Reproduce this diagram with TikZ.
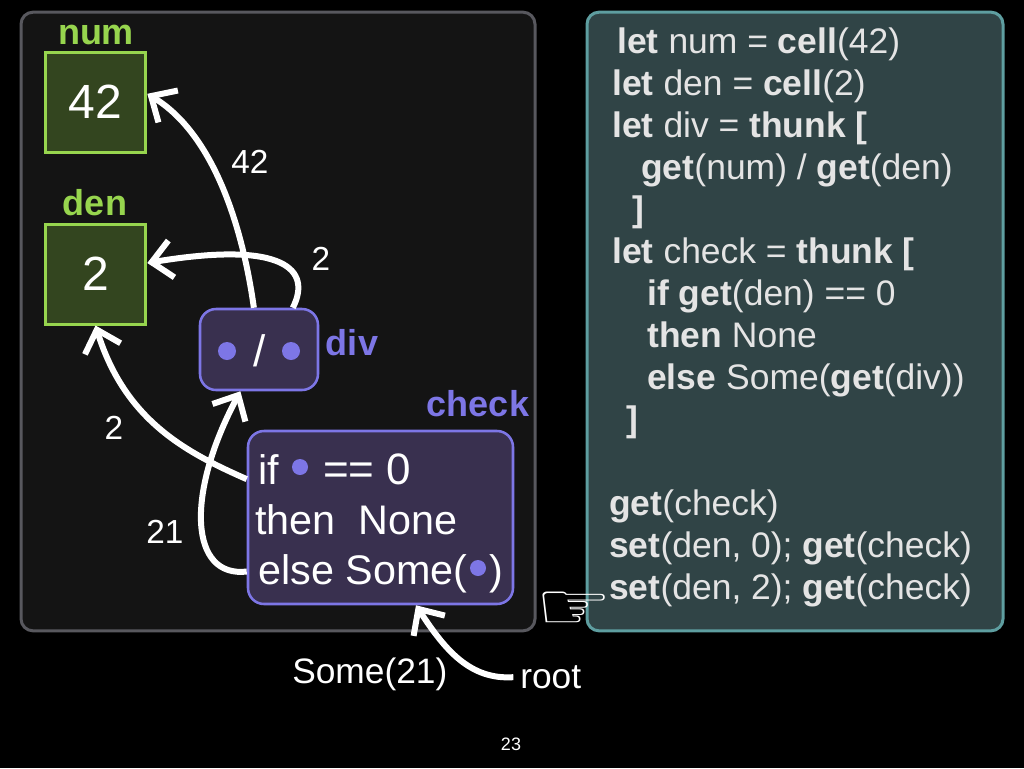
\documentclass[tikz,border=0pt]{standalone}
\usepackage{fontspec}
\setmainfont{Liberation Sans}
\newfontfamily\symfont{DejaVu Sans}
\usetikzlibrary{arrows.meta}
\definecolor{grn}{HTML}{97D54E}
\definecolor{grnfill}{HTML}{33451F}
\definecolor{pur}{HTML}{7D76E6}
\definecolor{purfill}{HTML}{39304F}
\definecolor{codecol}{HTML}{E4E4E4}
\tikzset{
  x=0.75pt,y=-0.75pt,
  cellbox/.style={draw=grn,fill=grnfill,line width=2.25pt,minimum width=75.5pt,minimum height=75pt,inner sep=0pt,text=white,font=\fontsize{36}{36}\selectfont},
  thunkbox/.style={draw=pur,fill=purfill,line width=1.9pt,rounded corners=12pt,inner sep=0pt},
  grnlab/.style={text=grn,inner sep=0pt,anchor=base,font=\bfseries\fontsize{27}{27}\selectfont},
  purlab/.style={text=pur,inner sep=0pt,anchor=base,font=\bfseries\fontsize{27}{27}\selectfont},
  wlab/.style={text=white,inner sep=0pt,anchor=base west,font=\fontsize{26.5}{26.5}\selectfont},
  small/.style={text=white,inner sep=0pt,font=\fontsize{25}{25}\selectfont},
  dotn/.style={circle,fill=pur,inner sep=0pt,minimum size=13.5pt},
  dots/.style={circle,fill=pur,inner sep=0pt,minimum size=12pt},
  code/.style={text=codecol,inner sep=0pt,anchor=base west,font=\fontsize{26.6}{26.6}\selectfont},
  conn/.style={draw=white,line width=4.5pt,-{Straight Barb[length=15pt,width=28pt,line width=4.5pt]}},
}
\begin{document}
\begin{tikzpicture}
\useasboundingbox (0,0) rectangle (1024,768);
\fill[black] (0,0) rectangle (1024,768);
\node[draw={rgb,255:red,88;green,88;blue,94},fill={rgb,255:red,20;green,20;blue,20},rounded corners=9pt,line width=2.25pt,minimum width=385.5pt,minimum height=464pt,inner sep=0pt] (left) at (278,321.5) {};
\node[draw={rgb,255:red,94;green,158;blue,160},fill={rgb,255:red,48;green,68;blue,70},rounded corners=9pt,line width=2.25pt,minimum width=312pt,minimum height=464pt,inner sep=0pt] (right) at (795,321.5) {};

\node[cellbox] (num) at (95.5,102) {\raisebox{-3pt}{42}};
\node[cellbox] (den) at (95.5,274) {\raisebox{-1pt}{2}};
\node[grnlab] (numlab) at (96,44) {num};
\node[grnlab] (denlab) at (95,215) {den};
\node[thunkbox,minimum width=88.5pt,minimum height=60.75pt] (div) at (259,349.5) {};
\node[thunkbox,minimum width=198.75pt,minimum height=129.75pt] (check) at (380.5,517.5) {};
\node[purlab] (divlab) at (352,355) {div};
\node[purlab] (checklab) at (478,416) {check};

\node[dotn] (d1) at (227,351) {};
\node[dotn] (d2) at (291,351) {};
\node[text=white,inner sep=0pt,font=\fontsize{33}{33}\selectfont] (slash) at (260,351) {/};

\node[wlab] (l1a) at (258,484) {\fontsize{31}{31}\selectfont if};
\node[dots] (d3) at (300,467) {};
\node[wlab] (l1b) at (323,484) {\fontsize{33}{33}\selectfont == 0};
\node[wlab] (l2) at (255,534) {\fontsize{31}{31}\selectfont then\ \ None};
\node[wlab] (l3a) at (258,584) {\fontsize{31}{31}\selectfont else Some(};
\node[dots] (d4) at (478,568) {};
\node[wlab] (l3b) at (489,584) {\fontsize{31}{31}\selectfont )};

\node[small] (v42) at (250,162) {42};
\node[small] (v2a) at (321,259) {2};
\node[small] (v2b) at (114,428) {2};
\node[small] (v21) at (165,532) {21};
\node[wlab] (some) at (292,683) {Some(21)};
\node[wlab] (root) at (520,688) {root};
\node[inner sep=0pt,text=white,font=\fontsize{13.5}{13.5}\selectfont] (page) at (511,744) {23};

\draw[conn] (div.97) .. controls (243,230) and (215,135) .. (num.9);
\draw[conn] (div.51) .. controls (312,270) and (285,240) .. (den.12);
\draw[conn] (check.164) .. controls (185,452) and (125,420) .. (den.south);
\draw[conn] (check.202) .. controls (190,578) and (185,495) .. (div.246);
\draw[conn,shorten <=5pt] (root.west) .. controls (470,680) and (445,650) .. (check.292);

\node[inner sep=0pt,text=white,xscale=1.7,yscale=1.3,font=\symfont\bfseries\fontsize{38}{38}\selectfont] (hand) at (574,611) {☞};

\node[code] (c1) at (617,53) {\textbf{let} num = \textbf{cell}(42)};
\node[code] (c2) at (612,95) {\textbf{let} den = \textbf{cell}(2)};
\node[code] (c3) at (612,137) {\textbf{let} div = \textbf{thunk [}};
\node[code] (c4) at (641,179) {\textbf{get}(num) / \textbf{get}(den)};
\node[code] (c5) at (632,221) {\textbf{]}};
\node[code] (c6) at (612,263) {\textbf{let} check = \textbf{thunk [}};
\node[code] (c7) at (647,305) {\textbf{if get}(den) == 0};
\node[code] (c8) at (647,347) {\textbf{then} None};
\node[code] (c9) at (647,389) {\textbf{else} Some(\textbf{get}(div))};
\node[code] (c10) at (626,431) {\textbf{]}};
\node[code] (c11) at (609,515) {\textbf{get}(check)};
\node[code] (c12) at (609,557) {\textbf{set}(den, 0); \textbf{get}(check)};
\node[code] (c13) at (609,599) {\textbf{set}(den, 2); \textbf{get}(check)};
\end{tikzpicture}
\end{document}
